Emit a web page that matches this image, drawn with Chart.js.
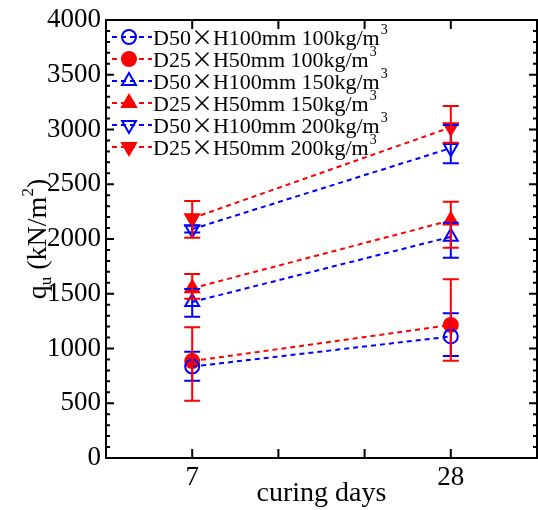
<!DOCTYPE html>
<html>
<head>
<meta charset="utf-8">
<script src="https://cdn.jsdelivr.net/npm/chart.js@4.4.1/dist/chart.umd.min.js"></script>
<style>
  html, body { margin: 0; padding: 0; background: #fff; overflow: hidden; }
</style>
</head>
<body>
<canvas id="chart" width="538" height="510"></canvas>
<script>
// x positions of the two curing ages on a 0..5 axis, and their tick labels
const xPos = [1, 4];
const xTickLabels = ["", "7", "", "", "28", ""];

const seriesNames = [
  "D50×H100mm 100kg/m³",
  "D25×H50mm 100kg/m³",
  "D50×H100mm 150kg/m³",
  "D25×H50mm 150kg/m³",
  "D50×H100mm 200kg/m³",
  "D25×H50mm 200kg/m³"
];

// qu (kN/m2) at 7 and 28 days, with lower / upper error bar ends
const qu_D50_100 = [835, 1110];
const lo_D50_100 = [706, 932];
const hi_D50_100 = [971, 1321];

const qu_D25_100 = [885, 1215];
const lo_D25_100 = [523, 889];
const hi_D25_100 = [1193, 1632];

const qu_D50_150 = [1425, 2020];
const lo_D50_150 = [1290, 1829];
const hi_D50_150 = [1543, 2149];

const qu_D25_150 = [1550, 2170];
const lo_D25_150 = [1455, 1921];
const hi_D25_150 = [1680, 2341];

const qu_D50_200 = [2090, 2830];
const lo_D50_200 = [2060, 2691];
const hi_D50_200 = [2120, 3041];

const qu_D25_200 = [2190, 3020];
const lo_D25_200 = [2012, 2880];
const hi_D25_200 = [2347, 3215];

const BLUE = "#0000ff";
const RED = "#ff0000";
const FONT = "'Liberation Serif', 'Times New Roman', serif";

const series = [
  { y: qu_D50_100, lo: lo_D50_100, hi: hi_D50_100, color: BLUE, style: "circle", filled: false, rot: 0, r: 7 },
  { y: qu_D25_100, lo: lo_D25_100, hi: hi_D25_100, color: RED, style: "circle", filled: true, rot: 0, r: 7 },
  { y: qu_D50_150, lo: lo_D50_150, hi: hi_D50_150, color: BLUE, style: "triangle", filled: false, rot: 0, r: 8 },
  { y: qu_D25_150, lo: lo_D25_150, hi: hi_D25_150, color: RED, style: "triangle", filled: true, rot: 0, r: 8 },
  { y: qu_D50_200, lo: lo_D50_200, hi: hi_D50_200, color: BLUE, style: "triangle", filled: false, rot: 180, r: 8 },
  { y: qu_D25_200, lo: lo_D25_200, hi: hi_D25_200, color: RED, style: "triangle", filled: true, rot: 180, r: 8 }
];

const datasets = series.map((s, i) => ({
  label: seriesNames[i],
  data: s.y.map((v, j) => ({ x: xPos[j], y: v })),
  errLow: s.lo,
  errHigh: s.hi,
  borderColor: s.color,
  borderWidth: 2,
  borderDash: [5, 4],
  pointStyle: s.style,
  pointRotation: s.rot,
  pointRadius: s.r,
  pointHoverRadius: s.r,
  pointBorderWidth: 2,
  pointBorderColor: s.color,
  pointBackgroundColor: s.filled ? s.color : "rgba(0,0,0,0)",
  fill: false,
  tension: 0
}));

function drawMarker(ctx, style, filled, rot, r, x, y, color) {
  ctx.save();
  ctx.strokeStyle = color;
  ctx.fillStyle = color;
  ctx.lineWidth = 2;
  ctx.setLineDash([]);
  ctx.beginPath();
  if (style === "circle") {
    ctx.arc(x, y, r, 0, Math.PI * 2);
  } else {
    let a = rot * Math.PI / 180;
    ctx.moveTo(x + Math.sin(a) * r, y - Math.cos(a) * r);
    a += 2 * Math.PI / 3;
    ctx.lineTo(x + Math.sin(a) * r, y - Math.cos(a) * r);
    a += 2 * Math.PI / 3;
    ctx.lineTo(x + Math.sin(a) * r, y - Math.cos(a) * r);
    ctx.closePath();
  }
  if (filled) ctx.fill();
  ctx.stroke();
  ctx.restore();
}

// text with a CJK-width "×" and raised superscript digits
function drawRichText(ctx, text, x, y, size) {
  for (const ch of text) {
    if (ch === "×") {
      ctx.font = size + "px 'Noto Sans CJK JP'";
      ctx.fillText(ch, x, y);
      x += ctx.measureText(ch).width;
    } else if (ch === "³" || ch === "²") {
      ctx.font = Math.round(size * 0.62) + "px " + FONT;
      const t = ch === "³" ? "3" : "2";
      ctx.fillText(t, x + 1, y - size * 0.52);
      x += ctx.measureText(t).width + 1;
    } else {
      ctx.font = size + "px " + FONT;
      ctx.fillText(ch, x, y);
      x += ctx.measureText(ch).width;
    }
  }
}

const framePlugin = {
  id: "frame",
  afterDatasetsDraw(chart) {
    const ctx = chart.ctx;
    const xs = chart.scales.x, ys = chart.scales.y;
    const a = chart.chartArea;

    // error bars
    chart.data.datasets.forEach(ds => {
      ctx.save();
      ctx.strokeStyle = ds.borderColor;
      ctx.lineWidth = 2;
      ds.data.forEach((p, j) => {
        const px = xs.getPixelForValue(p.x);
        const yLo = ys.getPixelForValue(ds.errLow[j]);
        const yHi = ys.getPixelForValue(ds.errHigh[j]);
        ctx.beginPath();
        ctx.moveTo(px, yLo); ctx.lineTo(px, yHi);
        ctx.moveTo(px - 8, yLo); ctx.lineTo(px + 8, yLo);
        ctx.moveTo(px - 8, yHi); ctx.lineTo(px + 8, yHi);
        ctx.stroke();
      });
      ctx.restore();
    });

    // frame and inward ticks
    ctx.save();
    ctx.strokeStyle = "#000";
    ctx.lineWidth = 2;
    ctx.strokeRect(a.left, a.top, a.right - a.left, a.bottom - a.top);
    ctx.beginPath();
    xs.ticks.forEach(t => {
      if (t.value <= xs.min || t.value >= xs.max) return;
      const px = xs.getPixelForValue(t.value);
      ctx.moveTo(px, a.bottom); ctx.lineTo(px, a.bottom - 9);
      ctx.moveTo(px, a.top); ctx.lineTo(px, a.top + 9);
    });
    ys.ticks.forEach(t => {
      if (t.value <= ys.min || t.value >= ys.max) return;
      const py = ys.getPixelForValue(t.value);
      const len = t.value % 500 === 0 ? 8 : 4;
      ctx.moveTo(a.left, py); ctx.lineTo(a.left + len, py);
      ctx.moveTo(a.right, py); ctx.lineTo(a.right - len, py);
    });
    ctx.stroke();
    ctx.restore();

    // legend inside the plot
    ctx.save();
    ctx.textBaseline = "alphabetic";
    ctx.fillStyle = "#000";
    chart.data.datasets.forEach((ds, i) => {
      const s = series[i];
      const cy = a.top + 17 + i * 22;
      ctx.save();
      ctx.strokeStyle = s.color;
      ctx.lineWidth = 2;
      ctx.setLineDash([5, 4]);
      ctx.beginPath();
      ctx.moveTo(a.left + 6, cy); ctx.lineTo(a.left + 46, cy);
      ctx.stroke();
      ctx.restore();
      drawMarker(ctx, s.style, s.filled, s.rot, s.r, a.left + 23, cy, s.color);
      ctx.fillStyle = "#000";
      drawRichText(ctx, ds.label, a.left + 47, cy + 8, 22);
    });
    ctx.restore();

    // y axis title: q_u (kN/m^2)
    ctx.save();
    ctx.fillStyle = "#000";
    ctx.textBaseline = "alphabetic";
    ctx.translate(46, (a.top + a.bottom) / 2);
    ctx.rotate(-Math.PI / 2);
    const big = 28, small = 17;
    const parts = [
      { t: "q", size: big, dy: 0 },
      { t: "u", size: small, dy: 5 },
      { t: " (kN/m", size: big, dy: 0 },
      { t: "2", size: small, dy: -13 },
      { t: ")", size: big, dy: 0 }
    ];
    let total = 0;
    parts.forEach(p => { ctx.font = p.size + "px " + FONT; p.w = ctx.measureText(p.t).width; total += p.w; });
    let x = -total / 2;
    parts.forEach(p => {
      ctx.font = p.size + "px " + FONT;
      ctx.fillText(p.t, x, p.dy);
      x += p.w;
    });
    ctx.restore();
  }
};

new Chart(document.getElementById("chart"), {
  type: "line",
  data: { datasets },
  options: {
    responsive: false,
    animation: false,
    events: [],
    layout: { autoPadding: false, padding: { top: 20, right: 1, left: 0, bottom: 0 } },
    plugins: { legend: { display: false }, tooltip: { enabled: false } },
    scales: {
      x: {
        type: "linear",
        min: 0,
        max: 5,
        afterFit: s => { s.height = 52; s.paddingLeft = 0; s.paddingRight = 0; },
        grid: { display: false, drawTicks: false },
        border: { display: false },
        ticks: {
          stepSize: 1,
          autoSkip: false,
          maxRotation: 0,
          padding: 4,
          color: "#000",
          font: { family: FONT, size: 27 },
          callback: v => xTickLabels[v] ?? ""
        },
        title: {
          display: true,
          text: "curing days",
          color: "#000",
          padding: { top: 0, bottom: 0 },
          font: { family: FONT, size: 28 }
        }
      },
      y: {
        min: 0,
        max: 4000,
        afterFit: s => { s.width = 106; s.paddingTop = 0; s.paddingBottom = 0; },
        grid: { display: false, drawTicks: false },
        border: { display: false },
        ticks: {
          stepSize: 100,
          autoSkip: false,
          padding: 5,
          color: "#000",
          font: { family: FONT, size: 27 },
          callback: v => (v % 500 === 0 ? v : "")
        }
      }
    }
  },
  plugins: [framePlugin]
});
</script>
</body>
</html>
